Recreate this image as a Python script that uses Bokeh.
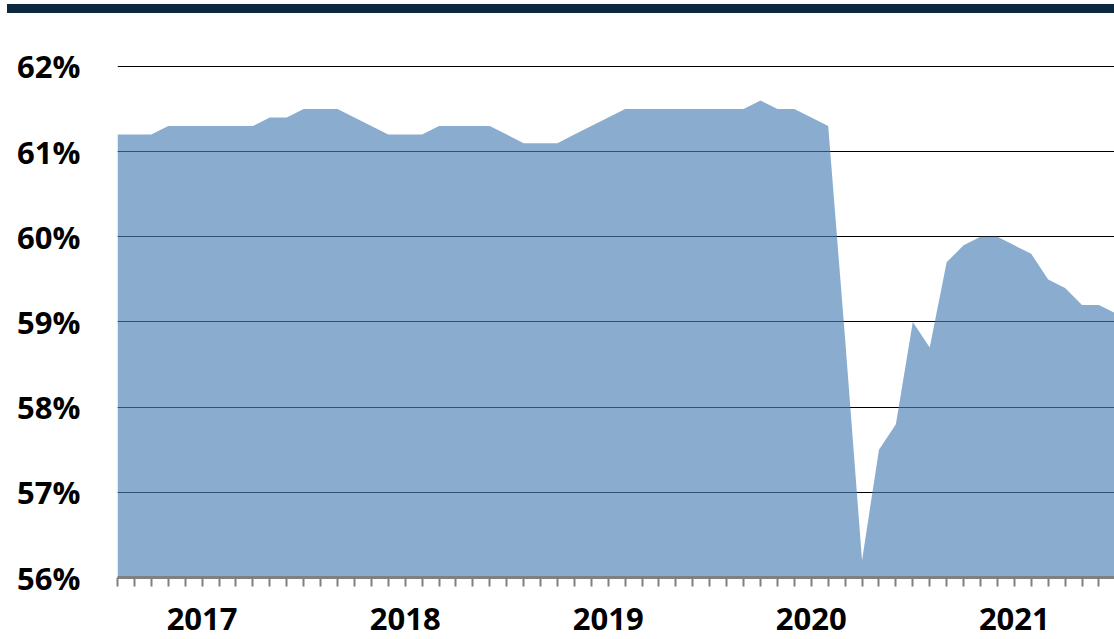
from bokeh.plotting import figure
from bokeh.layouts import column
from bokeh.models import FixedTicker, PrintfTickFormatter, Range1d, Div
from bokeh.embed import file_html
from bokeh.resources import INLINE

# ---- data ----
months = ["2016-08", "2016-09", "2016-10", "2016-11", "2016-12",
          "2017-01", "2017-02", "2017-03", "2017-04", "2017-05", "2017-06",
          "2017-07", "2017-08", "2017-09", "2017-10", "2017-11", "2017-12",
          "2018-01", "2018-02", "2018-03", "2018-04", "2018-05", "2018-06",
          "2018-07", "2018-08", "2018-09", "2018-10", "2018-11", "2018-12",
          "2019-01", "2019-02", "2019-03", "2019-04", "2019-05", "2019-06",
          "2019-07", "2019-08", "2019-09", "2019-10", "2019-11", "2019-12",
          "2020-01", "2020-02", "2020-03", "2020-04", "2020-05", "2020-06",
          "2020-07", "2020-08", "2020-09", "2020-10", "2020-11", "2020-12",
          "2021-01", "2021-02", "2021-03", "2021-04", "2021-05", "2021-06",
          "2021-07"]
values = [61.2, 61.2, 61.2, 61.3, 61.3,
          61.3, 61.3, 61.3, 61.3, 61.4, 61.4,
          61.5, 61.5, 61.5, 61.4, 61.3, 61.2,
          61.2, 61.2, 61.3, 61.3, 61.3, 61.3,
          61.2, 61.1, 61.1, 61.1, 61.2, 61.3,
          61.4, 61.5, 61.5, 61.5, 61.5, 61.5,
          61.5, 61.5, 61.5, 61.6, 61.5, 61.5,
          61.4, 61.3, 58.8, 56.2, 57.5, 57.8,
          59.0, 58.7, 59.7, 59.9, 60.0, 60.0,
          59.9, 59.8, 59.5, 59.4, 59.2, 59.2,
          59.1]
year_labels = ["2017", "2018", "2019", "2020", "2021"]
y_ticks = [56, 57, 58, 59, 60, 61, 62]

idx = list(range(len(months)))
overrides = {}
for i, m in enumerate(months):
    yr, mo = m.split("-")
    overrides[i] = yr if (mo == "01" and yr in year_labels) else ""

FONT = "Open Sans"
W = 1114

# ---- header bar (thin dark band at top) ----
hdr = Div(width=W, height=13, margin=0,
          text='<div style="height:4px"></div>'
               '<div style="margin-left:7px;width:1107px;height:9px;'
               'background:#0b2940"></div>')

# ---- main chart ----
p = figure(width=W, height=626, output_backend="svg", toolbar_location=None,
           x_range=Range1d(0, 58.92), y_range=Range1d(56, 62.0115))
p.min_border_left = 117
p.min_border_right = 0
p.min_border_top = 52
p.min_border_bottom = 62
p.outline_line_color = None
p.background_fill_color = "white"
p.border_fill_color = "white"

# grid
p.xgrid.grid_line_color = None
p.ygrid.ticker = FixedTicker(ticks=y_ticks)
p.ygrid.grid_line_color = "black"
p.ygrid.grid_line_width = 1.2

# area
p.varea(x=idx, y1=56, y2=values, fill_color="#467db4", fill_alpha=0.64)

# x axis
xa = p.xaxis[0]
xa.ticker = FixedTicker(ticks=idx)
xa.major_label_overrides = overrides
xa.axis_line_color = "#808080"
xa.axis_line_width = 3
xa.major_tick_line_color = "#808080"
xa.major_tick_line_width = 2
xa.major_tick_in = 0
xa.major_tick_out = 9
xa.minor_tick_line_color = None
xa.major_label_text_font = FONT
xa.major_label_text_font_style = "bold"
xa.major_label_text_font_size = "31px"
xa.major_label_text_color = "black"
xa.major_label_standoff = 21

# y axis
ya = p.yaxis[0]
ya.ticker = FixedTicker(ticks=y_ticks)
ya.formatter = PrintfTickFormatter(format="%d%%")
ya.axis_line_color = None
ya.major_tick_line_color = None
ya.minor_tick_line_color = None
ya.major_tick_in = 0
ya.major_tick_out = 0
ya.major_label_text_font = FONT
ya.major_label_text_font_style = "bold"
ya.major_label_text_font_size = "31px"
ya.major_label_text_color = "black"
ya.major_label_standoff = 37

layout = column(hdr, p, spacing=0)
open("out.html", "w").write(file_html(layout, INLINE))
